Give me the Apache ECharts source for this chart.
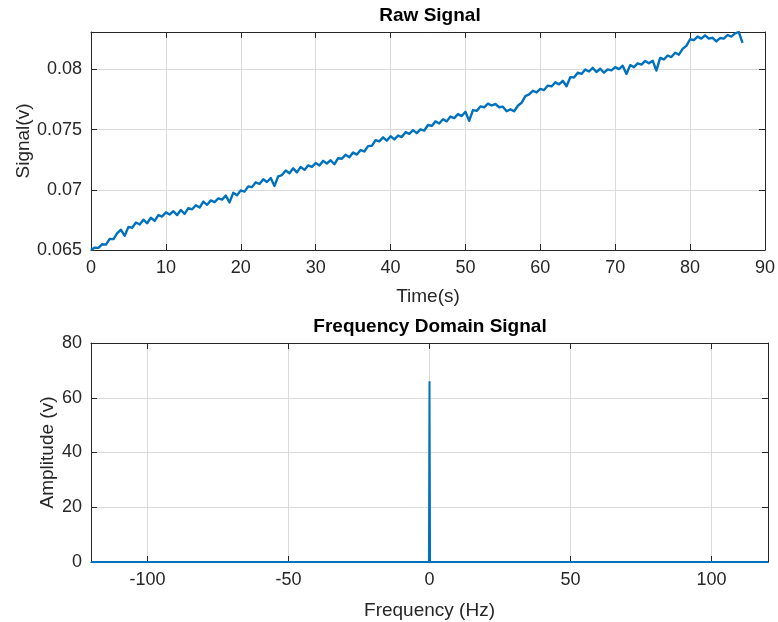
<!DOCTYPE html>
<html>
<head>
<meta charset="utf-8">
<title>Raw Signal / Frequency Domain Signal</title>
<script src="https://cdn.jsdelivr.net/npm/echarts@6/dist/echarts.min.js"></script>
<style>
  html, body { margin: 0; padding: 0; background: #fff; }
  #chart { width: 778px; height: 622px; }
</style>
</head>
<body>
<div id="chart"></div>
<script>
// Raw signal, sampled every 0.5 s from t = 0 s
const sampleStep = 0.5;
const rawSignal = [
  0.06500, 0.06520, 0.06518, 0.06548, 0.06545, 0.06592, 0.06590, 0.06640, 0.06668, 0.06618,
  0.06692, 0.06685, 0.06728, 0.06712, 0.06752, 0.06722, 0.06768, 0.06742, 0.06790, 0.06778,
  0.06812, 0.06795, 0.06822, 0.06790, 0.06832, 0.06800, 0.06848, 0.06838, 0.06872, 0.06852,
  0.06902, 0.06875, 0.06912, 0.06898, 0.06928, 0.06918, 0.06952, 0.06895, 0.06975, 0.06955,
  0.06995, 0.06985, 0.07028, 0.07022, 0.07062, 0.07048, 0.07088, 0.07065, 0.07098, 0.07032,
  0.07112, 0.07122, 0.07160, 0.07138, 0.07178, 0.07145, 0.07190, 0.07165, 0.07202, 0.07190,
  0.07222, 0.07202, 0.07240, 0.07218, 0.07245, 0.07212, 0.07262, 0.07258, 0.07290, 0.07270,
  0.07310, 0.07292, 0.07330, 0.07318, 0.07362, 0.07365, 0.07412, 0.07402, 0.07435, 0.07408,
  0.07445, 0.07418, 0.07450, 0.07438, 0.07478, 0.07465, 0.07495, 0.07470, 0.07502, 0.07492,
  0.07538, 0.07530, 0.07568, 0.07550, 0.07585, 0.07568, 0.07608, 0.07595, 0.07628, 0.07612,
  0.07648, 0.07572, 0.07662, 0.07655, 0.07692, 0.07685, 0.07715, 0.07700, 0.07712, 0.07685,
  0.07690, 0.07652, 0.07668, 0.07652, 0.07698, 0.07722, 0.07778, 0.07792, 0.07822, 0.07808,
  0.07838, 0.07828, 0.07865, 0.07858, 0.07892, 0.07875, 0.07905, 0.07860, 0.07935, 0.07932,
  0.07972, 0.07962, 0.07998, 0.07982, 0.08012, 0.07978, 0.08005, 0.07972, 0.08000, 0.07992,
  0.08018, 0.08002, 0.08030, 0.07962, 0.08035, 0.08018, 0.08050, 0.08040, 0.08070, 0.08050,
  0.08072, 0.07990, 0.08095, 0.08082, 0.08115, 0.08102, 0.08138, 0.08122, 0.08170, 0.08195,
  0.08250, 0.08242, 0.08272, 0.08255, 0.08282, 0.08255, 0.08262, 0.08232, 0.08260, 0.08255,
  0.08285, 0.08272, 0.08298, 0.08310, 0.08220
];

// Amplitude spectrum (two-sided)
const freqHz    = [-120, -0.2, 0, 0.2, 120];
const amplitude = [0, 0, 66, 0, 0];

// Tick values
const timeTicks   = [0, 10, 20, 30, 40, 50, 60, 70, 80, 90];
const signalTicks = [0.065, 0.07, 0.075, 0.08];
const freqTicks   = [-100, -50, 0, 50, 100];
const ampTicks    = [0, 20, 40, 60, 80];

const FONT = "'Liberation Sans', Arial, Helvetica, sans-serif";
const INK = '#262626';
const BLUE = '#0072BD';
const GRIDLINE = '#dadada';

function xAxisPair(gridIndex, min, max, ticks, name, nameGap, fmt) {
  const base = {
    type: 'value', gridIndex, min, max,
    axisLine: { show: true, onZero: false, lineStyle: { color: INK, width: 1 } },
    axisTick: { show: true, inside: true, length: 6, customValues: ticks, lineStyle: { color: INK } }
  };
  return [
    Object.assign({}, base, {
      position: 'bottom',
      name, nameLocation: 'middle', nameGap, nameMoveOverlap: false,
      nameTextStyle: { color: INK, fontFamily: FONT, fontSize: 19 },
      axisLabel: { show: true, customValues: ticks, margin: 9, color: INK, fontFamily: FONT, fontSize: 18, formatter: fmt },
      splitLine: { show: true, lineStyle: { color: GRIDLINE, width: 1 } }
    }),
    Object.assign({}, base, {
      position: 'top',
      axisLabel: { show: false },
      splitLine: { show: false }
    })
  ];
}

function yAxisPair(gridIndex, min, max, ticks, name, nameGap, fmt) {
  const base = {
    type: 'value', gridIndex, min, max,
    axisLine: { show: true, onZero: false, lineStyle: { color: INK, width: 1 } },
    axisTick: { show: true, inside: true, length: 6, customValues: ticks, lineStyle: { color: INK } }
  };
  return [
    Object.assign({}, base, {
      position: 'left',
      name, nameLocation: 'middle', nameGap, nameMoveOverlap: false,
      nameTextStyle: { color: INK, fontFamily: FONT, fontSize: 19 },
      axisLabel: { show: true, customValues: ticks, margin: 9, color: INK, fontFamily: FONT, fontSize: 18, formatter: fmt },
      splitLine: { show: true, lineStyle: { color: GRIDLINE, width: 1 } }
    }),
    Object.assign({}, base, {
      position: 'right',
      axisLabel: { show: false },
      splitLine: { show: false }
    })
  ];
}

const fmtPlain = v => String(+Number(v).toFixed(4));

const chart = echarts.init(document.getElementById('chart'), null, { renderer: 'canvas' });

chart.setOption({
  backgroundColor: '#ffffff',
  animation: false,
  textStyle: { fontFamily: FONT },
  grid: [
    { left: 91, right: 10, top: 32, height: 218, containLabel: false },
    { left: 91, right: 10, top: 343, height: 219, containLabel: false }
  ],
  xAxis: [
    ...xAxisPair(0, 0, 90, timeTicks, 'Time(s)', 37, fmtPlain),
    ...xAxisPair(1, -120, 120, freqTicks, 'Frequency (Hz)', 39, fmtPlain)
  ],
  yAxis: [
    ...yAxisPair(0, 0.065, 0.0831, signalTicks, 'Signal(v)', 58, fmtPlain),
    ...yAxisPair(1, 0, 80, ampTicks, 'Amplitude (v)', 34, fmtPlain)
  ],
  graphic: [
    { type: 'text', x: 430, y: 16, style: { text: 'Raw Signal', align: 'center', verticalAlign: 'middle', fill: '#000', font: 'bold 19px ' + FONT } },
    { type: 'text', x: 430, y: 327, style: { text: 'Frequency Domain Signal', align: 'center', verticalAlign: 'middle', fill: '#000', font: 'bold 19px ' + FONT } }
  ],
  series: [
    {
      type: 'line',
      xAxisIndex: 0, yAxisIndex: 0,
      data: rawSignal.map((v, i) => [i * sampleStep, v]),
      showSymbol: false,
      sampling: null,
      lineStyle: { color: BLUE, width: 2.4, join: 'round' },
      z: 3
    },
    {
      type: 'line',
      xAxisIndex: 2, yAxisIndex: 2,
      data: freqHz.map((f, i) => [f, amplitude[i]]),
      showSymbol: false,
      lineStyle: { color: BLUE, width: 2 },
      z: 3
    }
  ]
});
</script>
</body>
</html>
